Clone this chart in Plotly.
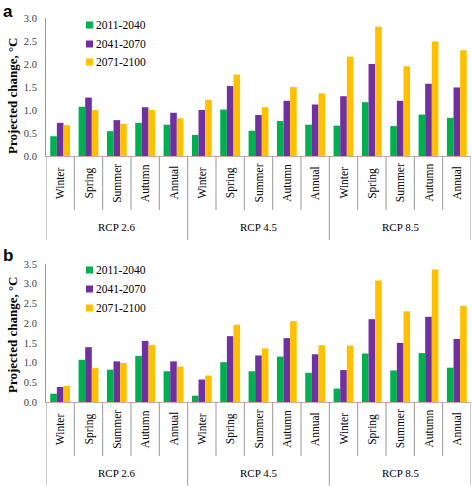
import plotly.graph_objects as go

seasons = ["Winter", "Spring", "Summer", "Autumn", "Annual"]
scenarios = ["RCP 2.6", "RCP 4.5", "RCP 8.5"]
periods = ["2011-2040", "2041-2070", "2071-2100"]
period_colors = ["#00b050", "#7030a0", "#ffc000"]

# panel a (values in °C)
a_2011_2040 = [0.43, 1.07, 0.54, 0.72, 0.68, 0.46, 1.01, 0.55, 0.76, 0.68, 0.66, 1.17, 0.65, 0.90, 0.83]
a_2041_2070 = [0.72, 1.27, 0.78, 1.06, 0.94, 1.00, 1.52, 0.89, 1.20, 1.12, 1.30, 2.00, 1.20, 1.57, 1.49]
a_2071_2100 = [0.67, 1.00, 0.70, 1.00, 0.82, 1.22, 1.77, 1.06, 1.50, 1.36, 2.16, 2.81, 1.95, 2.49, 2.30]
# panel b (values in °C)
b_2011_2040 = [0.21, 1.07, 0.82, 1.17, 0.78, 0.16, 1.01, 0.78, 1.15, 0.74, 0.34, 1.23, 0.80, 1.24, 0.87]
b_2041_2070 = [0.38, 1.39, 1.03, 1.55, 1.03, 0.57, 1.67, 1.18, 1.62, 1.21, 0.81, 2.10, 1.50, 2.16, 1.60]
b_2071_2100 = [0.41, 0.86, 0.99, 1.45, 0.90, 0.67, 1.96, 1.36, 2.05, 1.44, 1.43, 3.08, 2.30, 3.36, 2.44]

yticks_a = [0.0, 0.5, 1.0, 1.5, 2.0, 2.5, 3.0]
yticks_b = [0.0, 0.5, 1.0, 1.5, 2.0, 2.5, 3.0, 3.5]

cats = [f"{s} {se}" for s in scenarios for se in seasons]

W, H = 472, 486
SERIF = "Liberation Serif"

def py(px):
    return 1 - px / H

def px_x(px):
    return px / W

panels = [
    dict(data=[a_2011_2040, a_2041_2070, a_2071_2100], top=18, bottom=156, ticks=yticks_a,
         xa="x", ya="y", letter="a", letter_y=0, title_c=96, leg_y=[25, 44, 62]),
    dict(data=[b_2011_2040, b_2041_2070, b_2071_2100], top=264, bottom=402, ticks=yticks_b,
         xa="x2", ya="y2", letter="b", letter_y=244, title_c=335, leg_y=[270, 289, 308]),
]

fig = go.Figure()
shapes = []
annotations = []
line_col = "#999999"

for p in panels:
    for vals, name, col in zip(p["data"], periods, period_colors):
        fig.add_trace(go.Bar(x=cats, y=vals, name=name, marker=dict(color=col, line=dict(width=0)),
                             xaxis=p["xa"], yaxis=p["ya"], showlegend=False))
    # legend (square key + label)
    for ly, name, col in zip(p["leg_y"], periods, period_colors):
        shapes.append(dict(type="rect", xref="paper", yref="paper",
                           x0=px_x(86), x1=px_x(93), y0=py(ly + 3.5), y1=py(ly - 3.5),
                           fillcolor=col, line=dict(width=0)))
        annotations.append(dict(text=name, xref="paper", yref="paper", x=px_x(94), y=py(ly),
                                xanchor="left", yanchor="middle", showarrow=False,
                                font=dict(family=SERIF, size=11.5, color="black")))
    bot = p["bottom"]
    # category separators
    for i in range(16):
        xv = i - 0.5
        big = (i % 5 == 0)
        ext = 84 if big else 54
        shapes.append(dict(type="line", xref=p["xa"], yref="paper", x0=xv, x1=xv,
                           y0=py(bot), y1=py(min(bot + ext, H - 0.5)),
                           line=dict(color=line_col, width=1)))
    for i, c in enumerate(cats):
        annotations.append(dict(text=seasons[i % 5], xref=p["xa"], yref="paper", x=c, y=py(bot + 27),
                                xanchor="center", yanchor="middle",
                                textangle=-90, showarrow=False,
                                font=dict(family=SERIF, size=11.5, color="black")))
    for k, s in enumerate(scenarios):
        annotations.append(dict(text=s, xref=p["xa"], yref="paper", x=cats[k * 5 + 2], y=py(bot + 71),
                                xanchor="center", yanchor="middle",
                                showarrow=False, font=dict(family=SERIF, size=11, color="black")))
    annotations.append(dict(text="Projected change, °C", xref="paper", yref="paper", x=px_x(12),
                            y=py(p["title_c"]), xanchor="center", yanchor="middle",
                            textangle=-90, showarrow=False,
                            font=dict(family=SERIF, size=13, color="black", weight="bold")))
    annotations.append(dict(text=p["letter"], xref="paper", yref="paper", x=px_x(1), y=py(p["letter_y"]),
                            xanchor="left", yanchor="top", showarrow=False,
                            font=dict(family="Liberation Sans", size=17, color="black", weight="bold")))

xdom = [px_x(46), px_x(471)]
common_x = dict(type="category", categoryorder="array", categoryarray=cats, range=[-0.5, 14.5],
                showticklabels=False, showgrid=False, zeroline=False, showline=True,
                linecolor="#c9a9a9", linewidth=1, fixedrange=True, automargin=False)
common_y = dict(showgrid=False, zeroline=False, showline=True, linecolor=line_col, linewidth=1,
                tickformat=".1f", ticks="", automargin=False, ticklabelstandoff=6, fixedrange=True,
                tickfont=dict(family=SERIF, size=10.5, color="#404040"))

fig.update_layout(
    template="none",
    width=W, height=H, margin=dict(l=0, r=0, t=0, b=0, pad=0, autoexpand=False),
    paper_bgcolor="white", plot_bgcolor="white",
    barmode="group", bargap=0.3, bargroupgap=0,
    xaxis=dict(domain=xdom, anchor="y", **common_x),
    yaxis=dict(domain=[py(156), py(18)], anchor="x", range=[0, 3], tickvals=yticks_a, **common_y),
    xaxis2=dict(domain=xdom, anchor="y2", **common_x),
    yaxis2=dict(domain=[py(402), py(264)], anchor="x2", range=[0, 3.5], tickvals=yticks_b, **common_y),
    shapes=shapes, annotations=annotations, showlegend=False,
)

fig.write_html("out.html", config={"displayModeBar": False},
               post_script="document.body.style.margin='0';document.body.style.overflow='hidden';")
